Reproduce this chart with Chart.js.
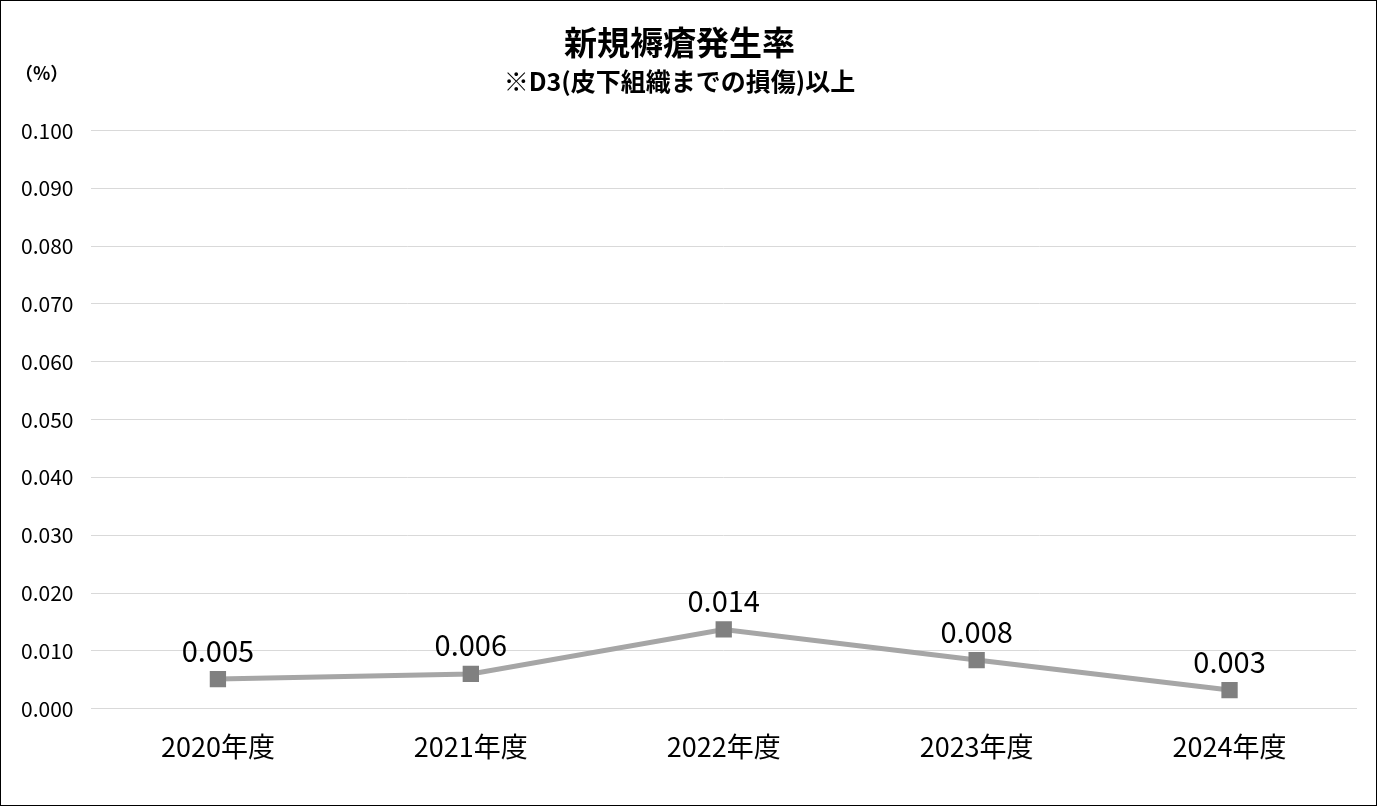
<!DOCTYPE html>
<html><head><meta charset="utf-8">
<script src="https://cdn.jsdelivr.net/npm/chart.js@4"></script>
<style>
html,body{margin:0;padding:0;background:#fff;}
#wrap{position:absolute;left:0;top:0;width:1375px;height:804px;border:1px solid #000;}
</style></head>
<body><div id="wrap"><canvas id="c" width="1375" height="804"></canvas></div>
<script>
const categories = ["2020年度","2021年度","2022年度","2023年度","2024年度"];
const rates = [0.0051, 0.0060, 0.0137, 0.0084, 0.0032];
const titleText = "新規褥瘡発生率";
const subtitleText = "※D3(皮下組織までの損傷)以上";
const unitText = "（%）";
const FONT = "'Noto Sans CJK JP', 'Noto Sans', sans-serif";

const labelPlugin = {
  id: 'lbl',
  afterDatasetsDraw(chart) {
    const ctx = chart.ctx;
    const meta = chart.getDatasetMeta(0);
    ctx.save();
    ctx.font = "29px " + FONT;
    ctx.fillStyle = "#000";
    ctx.textAlign = "center";
    ctx.textBaseline = "bottom";
    meta.data.forEach((p, i) => ctx.fillText(rates[i].toFixed(3), p.x, p.y - 14));
    ctx.font = "bold 18px " + FONT;
    ctx.textAlign = "left";
    ctx.textBaseline = "middle";
    ctx.fillText(unitText, 14, 72);
    ctx.restore();
  }
};

new Chart(document.getElementById('c'), {
  type: 'line',
  data: { labels: categories, datasets: [{
    data: rates, borderColor: '#a6a6a6', borderWidth: 5,
    pointStyle: 'rect', pointRadius: 8, pointBackgroundColor: '#808080',
    pointBorderColor: '#808080', tension: 0
  }]},
  options: {
    responsive: false, animation: false,
    layout: { padding: { left: 2, right: 20, top: 10, bottom: 28 } },
    plugins: {
      legend: { display: false }, tooltip: { enabled: false },
      title: { display: true, text: titleText, color: '#000',
        font: { family: FONT, size: 33, weight: 'bold' }, padding: { top: 12, bottom: 4 } },
      subtitle: { display: true, text: subtitleText, color: '#000',
        font: { family: FONT, size: 25, weight: 'bold' }, padding: { bottom: 34 } }
    },
    scales: {
      x: { offset: true, grid: { display: false }, border: { color: '#d9d9d9' },
        ticks: { color: '#000', font: { family: FONT, size: 27 }, padding: 14 } },
      y: { min: 0, max: 0.1, grid: { color: '#d9d9d9', drawTicks: false }, border: { display: false },
        ticks: { stepSize: 0.01, color: '#000', padding: 18, font: { family: FONT, size: 21 },
          callback: v => v.toFixed(3) } }
    }
  },
  plugins: [labelPlugin]
});
</script></body></html>
